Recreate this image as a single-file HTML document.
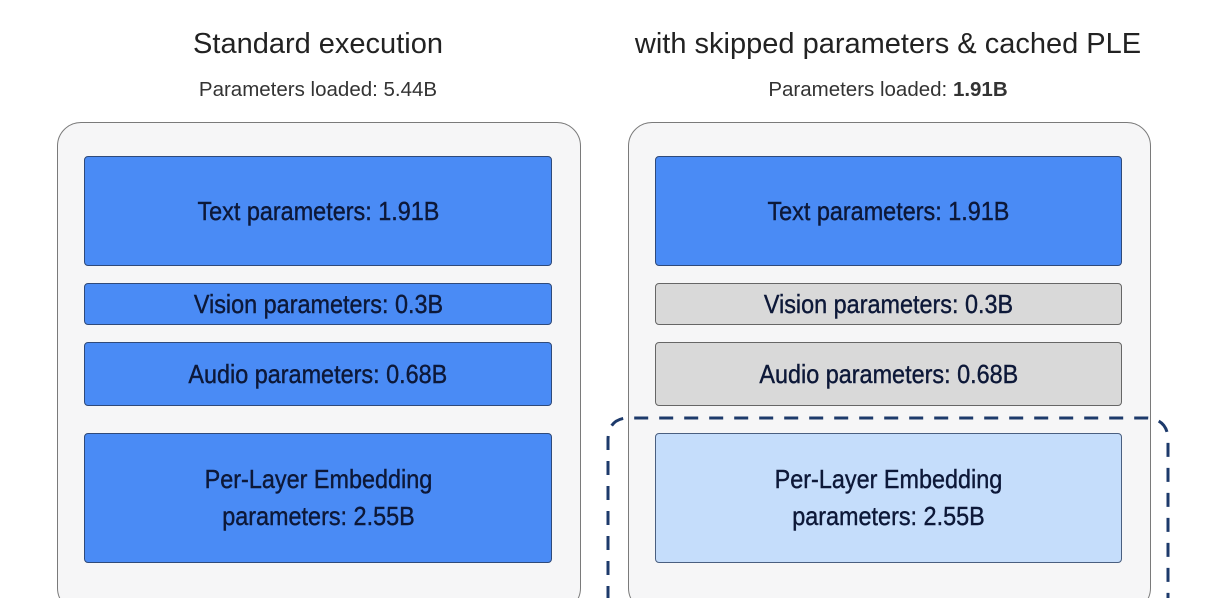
<!DOCTYPE html>
<html><head><style>
html,body{margin:0;width:1216px;height:598px;overflow:hidden;}
body{background:#fff;position:relative;font-family:"Liberation Sans",sans-serif;}
.t{position:absolute;text-align:center;color:#222;}
.outer{position:absolute;top:122px;height:490px;background:#f6f6f7;border:1.5px solid #7a7a7a;border-radius:24px;box-sizing:border-box;}
.b{position:absolute;box-sizing:border-box;border:1.5px solid #2f4a7a;border-radius:4px;display:flex;align-items:center;justify-content:center;text-align:center;color:#0d1838;font-size:26px;line-height:37px;}
.b span{display:inline-block;transform:scaleX(0.9);-webkit-text-stroke:0.4px #0d1838;}
.blue{background:#4a8bf5;}
.gray{background:#d9d9d9;border-color:#666;}
.lb{background:#c5ddfb;border-color:#4a5f80;}
</style></head><body>
<div class="t" style="left:0;width:636px;top:28px;font-size:29px;">Standard execution</div>
<div class="t" style="left:0;width:636px;top:78px;font-size:20.5px;color:#333;">Parameters loaded: 5.44B</div>
<div class="t" style="left:578px;width:620px;top:28px;font-size:29px;">with skipped parameters &amp; cached PLE</div>
<div class="t" style="left:578px;width:620px;top:78px;font-size:20.5px;color:#333;">Parameters loaded: <b>1.91B</b></div>

<div class="outer" style="left:57px;width:524px;"></div>
<div class="outer" style="left:628px;width:523px;"></div>

<div class="b blue" style="left:84px;width:468px;top:156px;height:110px;"><span>Text parameters: 1.91B</span></div>
<div class="b blue" style="left:84px;width:468px;top:283px;height:42px;"><span>Vision parameters: 0.3B</span></div>
<div class="b blue" style="left:84px;width:468px;top:342px;height:64px;"><span>Audio parameters: 0.68B</span></div>
<div class="b blue" style="left:84px;width:468px;top:433px;height:130px;"><span>Per-Layer Embedding<br>parameters: 2.55B</span></div>

<div class="b blue" style="left:655px;width:467px;top:156px;height:110px;"><span>Text parameters: 1.91B</span></div>
<div class="b gray" style="left:655px;width:467px;top:283px;height:42px;"><span>Vision parameters: 0.3B</span></div>
<div class="b gray" style="left:655px;width:467px;top:342px;height:64px;"><span>Audio parameters: 0.68B</span></div>
<div class="b lb" style="left:655px;width:467px;top:433px;height:130px;"><span>Per-Layer Embedding<br>parameters: 2.55B</span></div>

<svg style="position:absolute;left:0;top:0" width="1216" height="598">
<path d="M608 600 L608 440 Q608 420 626 418 L1148 418 Q1168 420 1168 440 L1168 600" fill="none" stroke="#1d3a6b" stroke-width="3" stroke-dasharray="14 11"/>
</svg>
</body></html>
